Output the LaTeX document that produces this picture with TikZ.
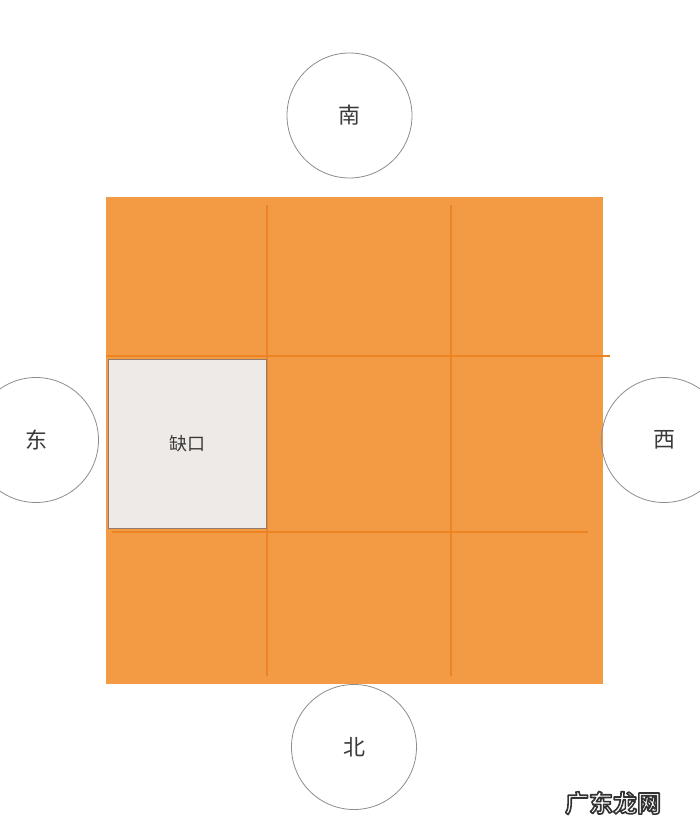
\documentclass[tikz,border=0pt]{standalone}
\usepackage{fontspec}
\newfontfamily\cjk{Noto Sans CJK SC}
\newfontfamily\cjkb{Noto Sans CJK SC Bold}
\definecolor{boardfill}{HTML}{F39A45}
\definecolor{gridline}{HTML}{EC8424}
\definecolor{gapfill}{HTML}{EEEAE7}
\definecolor{gapborder}{HTML}{8F7E70}
\definecolor{circline}{HTML}{8C8C8C}
\definecolor{labeltext}{HTML}{3A3A3A}
\newcommand{\outlinedtext}[1]{\special{pdf:literal direct 2 Tr 1.6 w 0.2 G 1 J 1 j}#1\special{pdf:literal direct 0 Tr}}
\tikzset{
  dircircle/.style={circle, draw=circline, line width=0.8pt, minimum size=125pt, inner sep=0pt, font=\cjk\fontsize{22}{22}\selectfont, text=labeltext},
  gridstroke/.style={draw=gridline, line width=1.4pt},
}
\begin{document}
\begin{tikzpicture}[x=1pt,y=-1pt]
\useasboundingbox (0,0) rectangle (699,832);
\fill[white] (0,0) rectangle (699,832);
% board
\node[draw=none, fill=boardfill, minimum width=497pt, minimum height=487pt, inner sep=0pt] (board) at (354.5,440.5) {};
% grid lines
\coordinate (v1t) at (267,205); \coordinate (v1b) at (267,676);
\coordinate (v2t) at (451,205); \coordinate (v2b) at (451,676);
\coordinate (h1l) at (106,356); \coordinate (h1r) at (610,356);
\coordinate (h2l) at (112,532); \coordinate (h2r) at (588,532);
\draw[gridstroke] (v1t) -- (v1b);
\draw[gridstroke] (v2t) -- (v2b);
\draw[gridstroke] (h1l) -- (h1r);
\draw[gridstroke] (h2l) -- (h2r);
% gap cell
\node[draw=gapborder, fill=gapfill, line width=1pt, minimum width=158pt, minimum height=169pt, inner sep=0pt, font=\cjk\fontsize{18}{18}\selectfont, text=labeltext] (gap) at (187,443.5) {缺口};
% direction circles
\node[dircircle] (south) at (349.5,115.5) {南};
\node[dircircle] (east) at (36,440) {东};
\node[dircircle] (west) at (664,440) {西};
\node[dircircle] (north) at (354,747) {北};
% watermark
\node[font=\cjkb\fontsize{24}{24}\selectfont, text=white] (mark) at (613,803) {\outlinedtext{广东龙网}};
\end{tikzpicture}
\end{document}
